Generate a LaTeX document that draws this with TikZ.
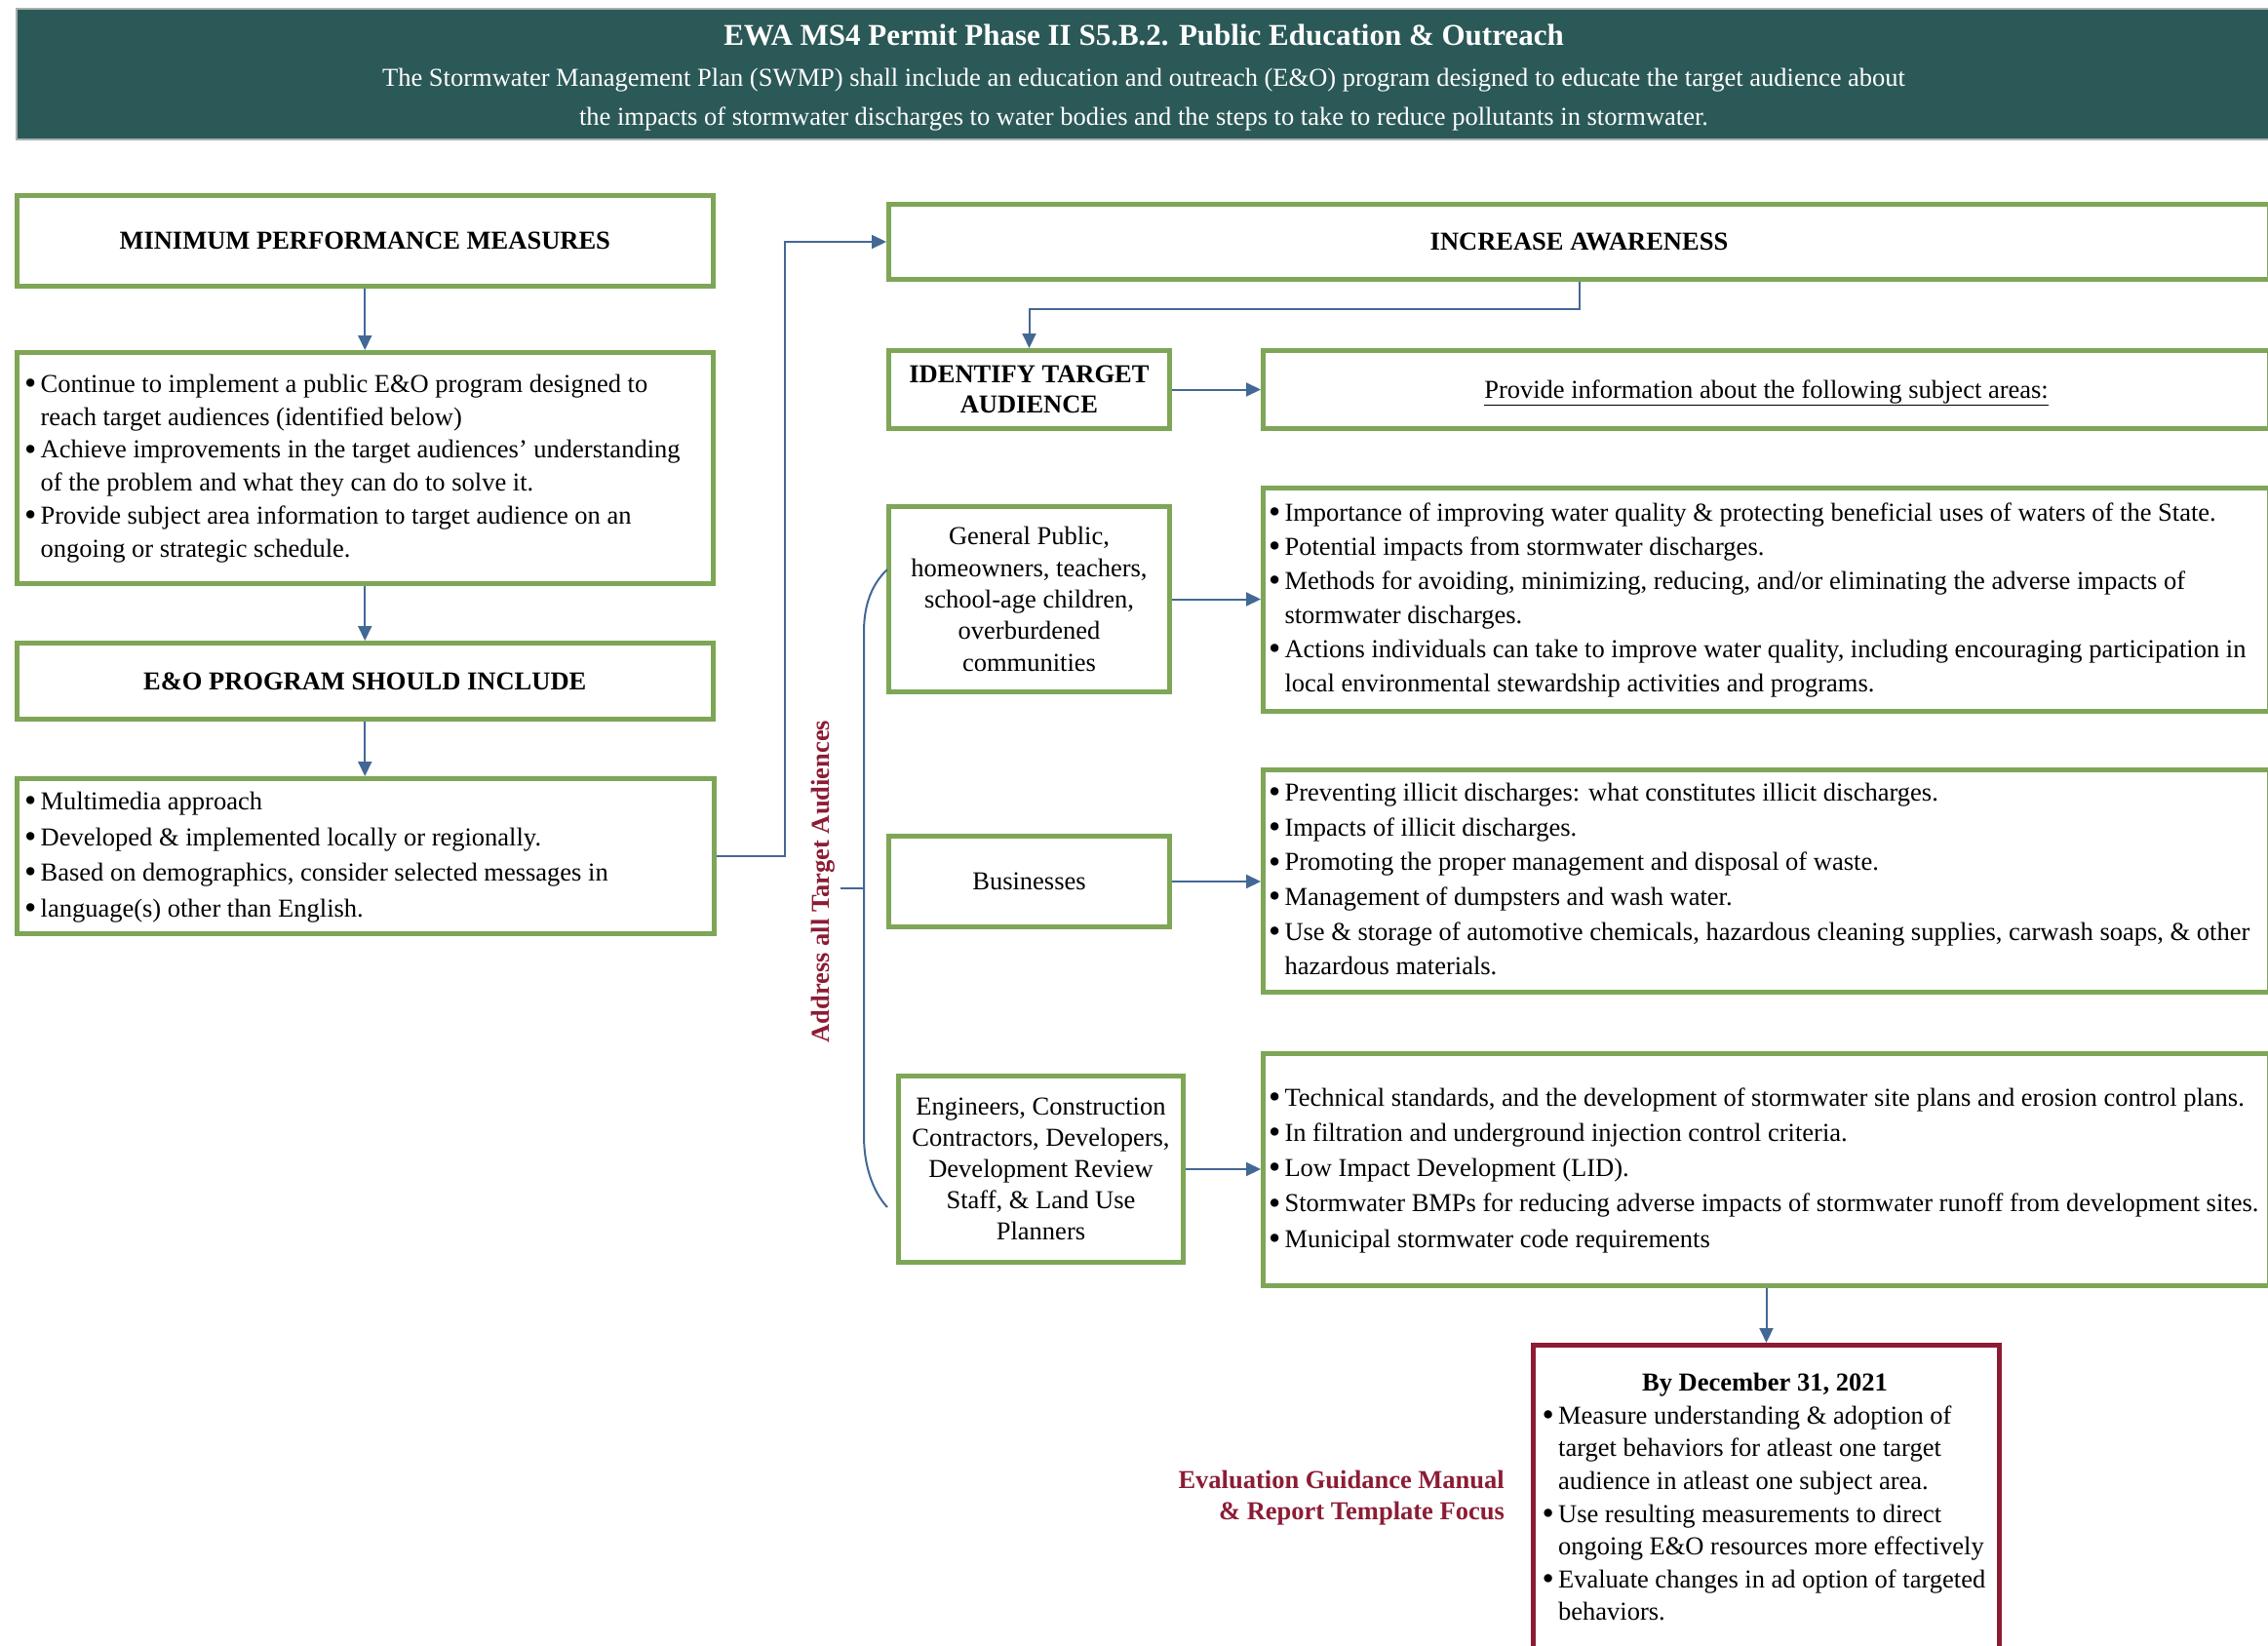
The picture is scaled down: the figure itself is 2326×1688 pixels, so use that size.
\documentclass[tikz,border=0pt]{standalone}
\usepackage{fontspec}
\setmainfont{Liberation Serif}
\usetikzlibrary{arrows.meta}
\definecolor{hdrteal}{HTML}{2B5957}
\definecolor{hdrgray}{HTML}{A9B0AF}
\definecolor{boxgreen}{HTML}{7EA656}
\definecolor{conblue}{HTML}{436896}
\definecolor{darkred}{HTML}{8C1C34}
\newcommand\bx{\makebox[14.5pt][l]{\hspace*{-2pt}\raisebox{-2.2pt}{\fontsize{35}{35}\selectfont\textbullet}}}
\newcommand\bfs[1]{\fontsize{26.5}{#1}\selectfont}
\begin{document}
\begin{tikzpicture}[x=1pt,y=-1pt,
  gbox/.style={draw=boxgreen, line width=5.3pt, inner sep=0pt, fill=white},
  lbox/.style={gbox, inner xsep=10pt, inner ysep=0pt},
  sbox/.style={gbox, inner xsep=7.35pt, inner ysep=0pt},
  rbox/.style={draw=darkred, line width=5.3pt, inner xsep=11pt, inner ysep=0pt, fill=white},
  conn/.style={draw=conblue, line width=2pt, -{Triangle[length=15pt,width=14pt]}},
  bracket/.style={draw=conblue, line width=2pt},
  headtext/.style={font=\bfs{32}\bfseries, align=center},
  redtext/.style={text=darkred, font=\bfs{32}\bfseries}
]
\useasboundingbox (0,0) rectangle (2326,1688);
\clip (0,0) rectangle (2326,1688);

% header
\node[fill=hdrteal, draw=hdrgray, line width=2pt, minimum width=2312pt, minimum height=134pt, inner sep=0pt] (hdr) at (1173,76) {};
\node[text=white, font=\fontsize{31}{36}\selectfont\bfseries, inner sep=0pt] (ttl) at (1173,35.5) {EWA MS4 Permit Phase II S5.B.2. Public Education \& Outreach};
\node[text=white, align=center, font=\bfs{40}, inner sep=0pt] (sub) at (1173,102) {The Stormwater Management Plan (SWMP) shall include an education and outreach (E\&O) program designed to educate the target audience about\\the impacts of stormwater discharges to water bodies and the steps to take to reduce pollutants in stormwater.};

% left column
\node[gbox, minimum width=714.2pt, minimum height=92.7pt, headtext] (mpm) at (374.25,247) {MINIMUM PERFORMANCE MEASURES};
\node[lbox, minimum width=714.2pt, minimum height=236.7pt, font=\bfs{33.8}] (b1) at (374.25,480) {\makebox[694.2pt][l]{\begin{tabular}{@{}l@{}l@{}}
\bx & Continue to implement a public E\&O program designed to\\
 & reach target audiences (identified below)\\
\bx & Achieve improvements in the target audiences’ understanding\\
 & of the problem and what they can do to solve it.\\
\bx & Provide subject area information to target audience on an\\
 & ongoing or strategic schedule.
\end{tabular}}};
\node[gbox, minimum width=714.2pt, minimum height=77.7pt, headtext] (eo) at (374.25,698.5) {E\&O PROGRAM SHOULD INCLUDE};
\node[lbox, minimum width=715.2pt, minimum height=158.7pt, font=\bfs{36.5}] (b2) at (374.75,878) {\makebox[695.2pt][l]{\begin{tabular}{@{}l@{}l@{}}
\bx & Multimedia approach\\
\bx & Developed \& implemented locally or regionally.\\
\bx & Based on demographics, consider selected messages in\\
\bx & language(s) other than English.
\end{tabular}}};

% right column
\node[gbox, minimum width=1415.7pt, minimum height=76.7pt, headtext] (ia) at (1619.5,248) {INCREASE AWARENESS};
\node[gbox, minimum width=287.7pt, minimum height=79.7pt, font=\bfs{31}\bfseries, align=center] (id) at (1055.5,399.5) {IDENTIFY TARGET\\AUDIENCE};
\node[gbox, minimum width=1031.7pt, minimum height=79.7pt, font=\bfs{32}, text height=18pt, text depth=0pt] (pr) at (1811.5,399.5) {\underline{Provide information about the following subject areas:}};

\node[gbox, minimum width=287.7pt, minimum height=189.7pt, font=\bfs{32.4}, align=center] (gp) at (1055.5,614.5) {General Public,\\homeowners, teachers,\\school-age children,\\overburdened\\communities};
\node[sbox, minimum width=1031.7pt, minimum height=228.7pt, font=\bfs{34.9}] (s1) at (1811.5,615) {\makebox[1017pt][l]{\begin{tabular}{@{}l@{}l@{}}
\bx & Importance of improving water quality \& protecting beneficial uses of waters of the State.\\
\bx & Potential impacts from stormwater discharges.\\
\bx & Methods for avoiding, minimizing, reducing, and/or eliminating the adverse impacts of\\
 & stormwater discharges.\\
\bx & Actions individuals can take to improve water quality, including encouraging participation in\\
 & local environmental stewardship activities and programs.
\end{tabular}}};

\node[gbox, minimum width=287.7pt, minimum height=92.7pt, font=\bfs{32}] (bu) at (1055.5,904) {Businesses};
\node[sbox, minimum width=1031.7pt, minimum height=227.7pt, font=\bfs{35.6}] (s2) at (1811.5,903.5) {\makebox[1017pt][l]{\begin{tabular}{@{}l@{}l@{}}
\bx & Preventing illicit discharges: what constitutes illicit discharges.\\
\bx & Impacts of illicit discharges.\\
\bx & Promoting the proper management and disposal of waste.\\
\bx & Management of dumpsters and wash water.\\
\bx & Use \& storage of automotive chemicals, hazardous cleaning supplies, carwash soaps, \& other\\
 & hazardous materials.
\end{tabular}}};

\node[gbox, minimum width=291.7pt, minimum height=190.7pt, font=\bfs{32}, align=center] (en) at (1067.5,1199) {Engineers, Construction\\Contractors, Developers,\\Development Review\\Staff, \& Land Use\\Planners};
\node[sbox, minimum width=1031.7pt, minimum height=237.7pt, font=\bfs{36.2}] (s3) at (1811.5,1199.5) {\makebox[1017pt][l]{\begin{tabular}{@{}l@{}l@{}}
\bx & Technical standards, and the development of stormwater site plans and erosion control plans.\\
\bx & In filtration and underground injection control criteria.\\
\bx & Low Impact Development (LID).\\
\bx & Stormwater BMPs for reducing adverse impacts of stormwater runoff from development sites.\\
\bx & Municipal stormwater code requirements
\end{tabular}}};

\node[rbox, minimum width=477.7pt, minimum height=315.7pt, font=\bfs{33.6}] (red) at (1811.5,1537.5) {\makebox[455.7pt][l]{\begin{tabular}{@{}l@{}l@{}}
\multicolumn{2}{@{}c@{}}{\bfseries By December 31, 2021}\\
\bx & Measure understanding \& adoption of\\
 & target behaviors for atleast one target\\
 & audience in atleast one subject area.\\
\bx & Use resulting measurements to direct\\
 & ongoing E\&O resources more effectively\\
\bx & Evaluate changes in ad option of targeted\\
 & behaviors.
\end{tabular}}};

\node[redtext, anchor=east, align=right, inner sep=0pt] (eval) at (1543,1536) {Evaluation Guidance Manual\\\& Report Template Focus};

% connectors
\draw[conn] (mpm.south) -- (b1.north);
\draw[conn] (b1.south) -- (eo.north);
\draw[conn] (eo.south) -- (eo.south |- b2.north);
\coordinate (jx) at (805,0);
\draw[conn] (b2.east) -- (b2.east -| jx) |- (ia.west);
\coordinate (jy) at (0,317);
\draw[conn] (ia.south) -- (ia.south |- jy) -| (id.north);
\draw[conn] (id.east) -- (pr.west);
\draw[conn] (gp.east) -- (gp.east -| s1.west);
\draw[conn] (bu.east) -- (bu.east -| s2.west);
\draw[conn] (en.east) -- (en.east -| s3.west);
\draw[conn] (s3.south) -- (red.north);

% bracket for all audiences
\coordinate (bt) at (910,584);
\coordinate (bb) at (910,1238);
\coordinate (tk) at (862,910.7);
\draw[bracket] (bt) .. controls (893,600) and (886,622) .. (886,648) -- (886,1165) .. controls (886,1195) and (895,1222) .. (bb);
\draw[bracket] (886,910.7) -- (tk);
\node[redtext, rotate=90, inner sep=0pt] (addr) at (844,904) {Address all Target Audiences};
\end{tikzpicture}
\end{document}
